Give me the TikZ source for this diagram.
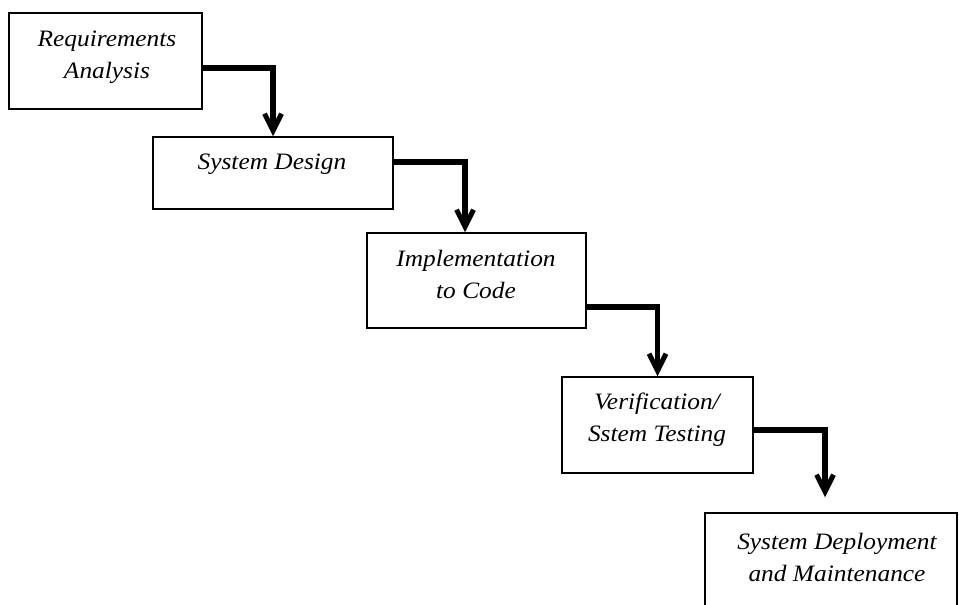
\documentclass[tikz,border=0pt]{standalone}
\usepackage{fontspec}
\setmainfont{Liberation Serif}[FakeStretch=1.08]
\usetikzlibrary{arrows.meta}

\begin{document}
\begin{tikzpicture}[x=1pt,y=-1pt,
  stage/.style={draw=black, line width=1.5pt, inner sep=0pt},
  lbl/.style={font=\fontsize{23.5}{32}\selectfont\itshape, align=center, inner sep=0pt},
  flow/.style={line width=5.5pt, line join=miter,
    -{Straight Barb[length=17pt,width=17pt,line width=5pt]}}]
\useasboundingbox (0,0) rectangle (959,605);
\clip (0,0) rectangle (959,605);

% stage boxes
\node[stage, minimum width=193pt, minimum height=96pt]  (b1) at (105.5,61)  {};
\node[stage, minimum width=240pt, minimum height=72pt]  (b2) at (273,173)   {};
\node[stage, minimum width=219pt, minimum height=95pt]  (b3) at (476.5,280.5) {};
\node[stage, minimum width=191pt, minimum height=96pt]  (b4) at (657.5,425) {};
\node[stage, minimum width=252pt, minimum height=130pt] (b5) at (831,578)   {};

% stage labels
\node[lbl] (t1) at (107,57)  {Requirements\\Analysis};
\node[lbl] (t2) at (272,164) {System Design};
\node[lbl] (t3) at (476,274) {Implementation\\to Code};
\node[lbl] (t4) at (657,420) {Verification/\\Sstem Testing};
\node[lbl] (t5) at (837,557) {System Deployment\\and Maintenance};

% step-down connectors
\draw[flow] ([yshift=-7pt]b1.east)    -| (b2.north);
\draw[flow] ([yshift=11pt]b2.east)    -| ([xshift=-11.5pt]b3.north);
\draw[flow] ([yshift=-26.5pt]b3.east) -| (b4.north);
\draw[flow] ([yshift=-5pt]b4.east)    -| ([xshift=-6pt,yshift=15pt]b5.north);
\end{tikzpicture}
\end{document}
